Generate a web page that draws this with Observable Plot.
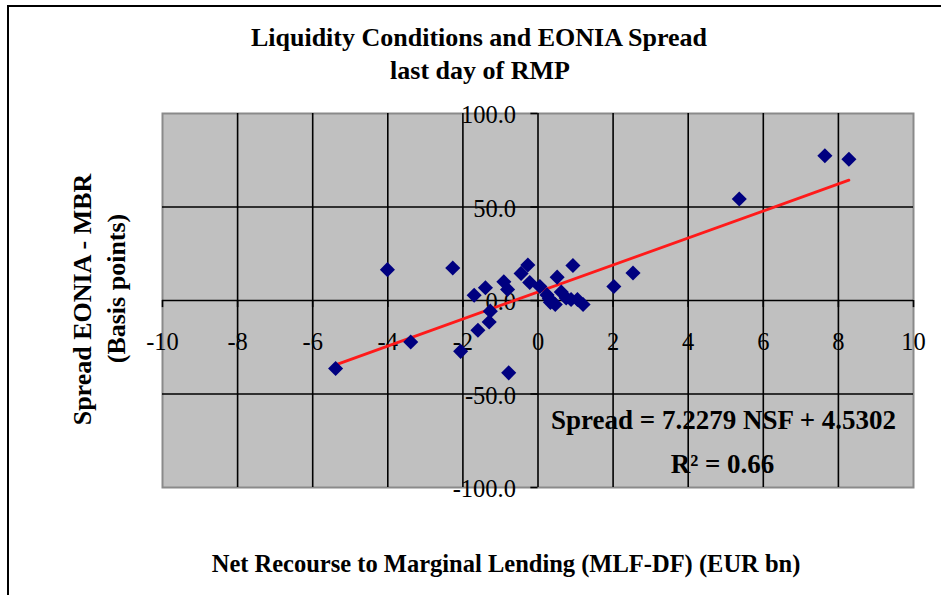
<!DOCTYPE html>
<html>
<head>
<meta charset="utf-8">
<script src="https://cdn.jsdelivr.net/npm/d3@7"></script>
<script src="https://cdn.jsdelivr.net/npm/@observablehq/plot@0.6"></script>
<style>
  html, body { margin: 0; padding: 0; background: #fff; }
  #wrap { position: relative; width: 941px; height: 595px; overflow: hidden; }
  #border { position: absolute; left: 7px; top: 5px; width: 2000px; height: 2000px;
            border-left: 2px solid #000; border-top: 2px solid #000; pointer-events: none; }
  svg { position: absolute; left: 0; top: 0; }
</style>
</head>
<body>
<div id="wrap"><div id="border"></div></div>
<script>
// ---- data ----
const netRecourse = [-5.39, -4.01, -3.39, -2.27, -2.06, -1.70, -1.60, -1.40, -1.30, -1.27,
  -0.91, -0.81, -0.78, -0.27, -0.45, -0.22, 0.05, 0.24, 0.30, 0.33,
  0.46, 0.62, 0.51, 0.75, 0.93, 0.88, 1.05, 1.20, 2.02, 2.53,
  5.36, 7.64, 8.28];
const spread = [-36.4, 16.5, -22.2, 17.4, -27.2, 2.8, -15.9, 6.8, -11.5, -5.7,
  10.0, 5.9, -38.7, 19.0, 14.5, 9.6, 7.5, 3.0, 1.0, -1.0,
  -2.1, 4.5, 12.5, 1.4, 18.7, 0.5, 0.5, -2.1, 7.5, 14.7,
  54.3, 77.4, 75.5];
const slope = 7.2279;
const intercept = 4.5302;
const rSquared = 0.66;
const xTicks = [-10, -8, -6, -4, -2, 0, 2, 4, 6, 8, 10];
const yTicks = [-100, -50, 0, 50, 100];
const title = "Liquidity Conditions and EONIA Spread";
const subtitle = "last day of RMP";
const xTitle = "Net Recourse to Marginal Lending (MLF-DF) (EUR bn)";
const yTitle1 = "Spread EONIA - MBR";
const yTitle2 = "(Basis points)";

// ---- build ----
const points = netRecourse.map((x, i) => ({x, y: spread[i]}));
const xMin = d3.min(netRecourse), xMax = d3.max(netRecourse);
const fitLine = [xMin, xMax].map(x => ({x, y: slope * x + intercept}));
const eqText = `Spread = ${slope.toFixed(4)} NSF + ${intercept.toFixed(4)}`;
const r2Text = `R² = ${rSquared.toFixed(2)}`;
const inner = xTicks.filter(d => d !== d3.min(xTicks) && d !== d3.max(xTicks));
const innerY = yTicks.filter(d => d !== d3.min(yTicks) && d !== d3.max(yTicks));

const serif = "Liberation Serif, Times New Roman, serif";

const chart = Plot.plot({
  width: 941,
  height: 595,
  marginLeft: 162,
  marginRight: 28,
  marginTop: 113,
  marginBottom: 108,
  x: {domain: [-10, 10], axis: null},
  y: {domain: [-100, 100], axis: null},
  style: {fontFamily: serif, background: "transparent", overflow: "visible"},
  marks: [
    Plot.frame({fill: "#c0c0c0", stroke: "#8a8a8a", strokeWidth: 2}),
    Plot.ruleX(inner, {stroke: "#000", strokeWidth: 1.6}),
    Plot.ruleY(innerY, {stroke: "#000", strokeWidth: 1.6}),
    // tick marks on the axes crossing at the origin
    Plot.ruleY(yTicks, {x1: -0.19, x2: 0, stroke: "#000", strokeWidth: 1.6}),
    Plot.ruleX(xTicks, {y1: 0, y2: -3.8, stroke: "#000", strokeWidth: 1.6}),
    // tick labels
    Plot.text(yTicks, {x: 0, y: d => d, text: d => d.toFixed(1),
      textAnchor: "end", dx: -22, dy: 2, fontSize: 24.5, fill: "#000"}),
    Plot.text(xTicks, {x: d => d, y: 0, text: d => String(d),
      dy: 42, fontSize: 24.5, fill: "#000"}),
    // regression line and points
    Plot.line(fitLine, {x: "x", y: "y", stroke: "#ff1a1a", strokeWidth: 2.8}),
    Plot.dot(points, {x: "x", y: "y", symbol: "diamond2", r: 6.8,
      fill: "#000080", stroke: "none"}),
    // equation annotation
    Plot.text([eqText], {frameAnchor: "top-left", textAnchor: "middle", dx: 561, dy: 296,
      fontSize: 27, fontWeight: "bold", fill: "#000"}),
    Plot.text([r2Text], {frameAnchor: "top-left", textAnchor: "middle", dx: 560, dy: 340,
      fontSize: 27, fontWeight: "bold", fill: "#000"}),
    // titles
    Plot.text([title], {frameAnchor: "top", dx: -59, dy: -86,
      fontSize: 26, fontWeight: "bold", fill: "#000"}),
    Plot.text([subtitle], {frameAnchor: "top", dx: -58, dy: -53,
      fontSize: 26, fontWeight: "bold", fill: "#000"}),
    Plot.text([xTitle], {frameAnchor: "bottom", dx: -32, dy: 84,
      fontSize: 24.5, fontWeight: "bold", fill: "#000"}),
    Plot.text([yTitle1], {frameAnchor: "left", textAnchor: "middle", dx: -80, dy: -1, rotate: -90,
      fontSize: 26, fontWeight: "bold", fill: "#000"}),
    Plot.text([yTitle2], {frameAnchor: "left", textAnchor: "middle", dx: -46, dy: -12, rotate: -90,
      fontSize: 26, fontWeight: "bold", fill: "#000"})
  ]
});
document.getElementById("wrap").appendChild(chart);
</script>
</body>
</html>
